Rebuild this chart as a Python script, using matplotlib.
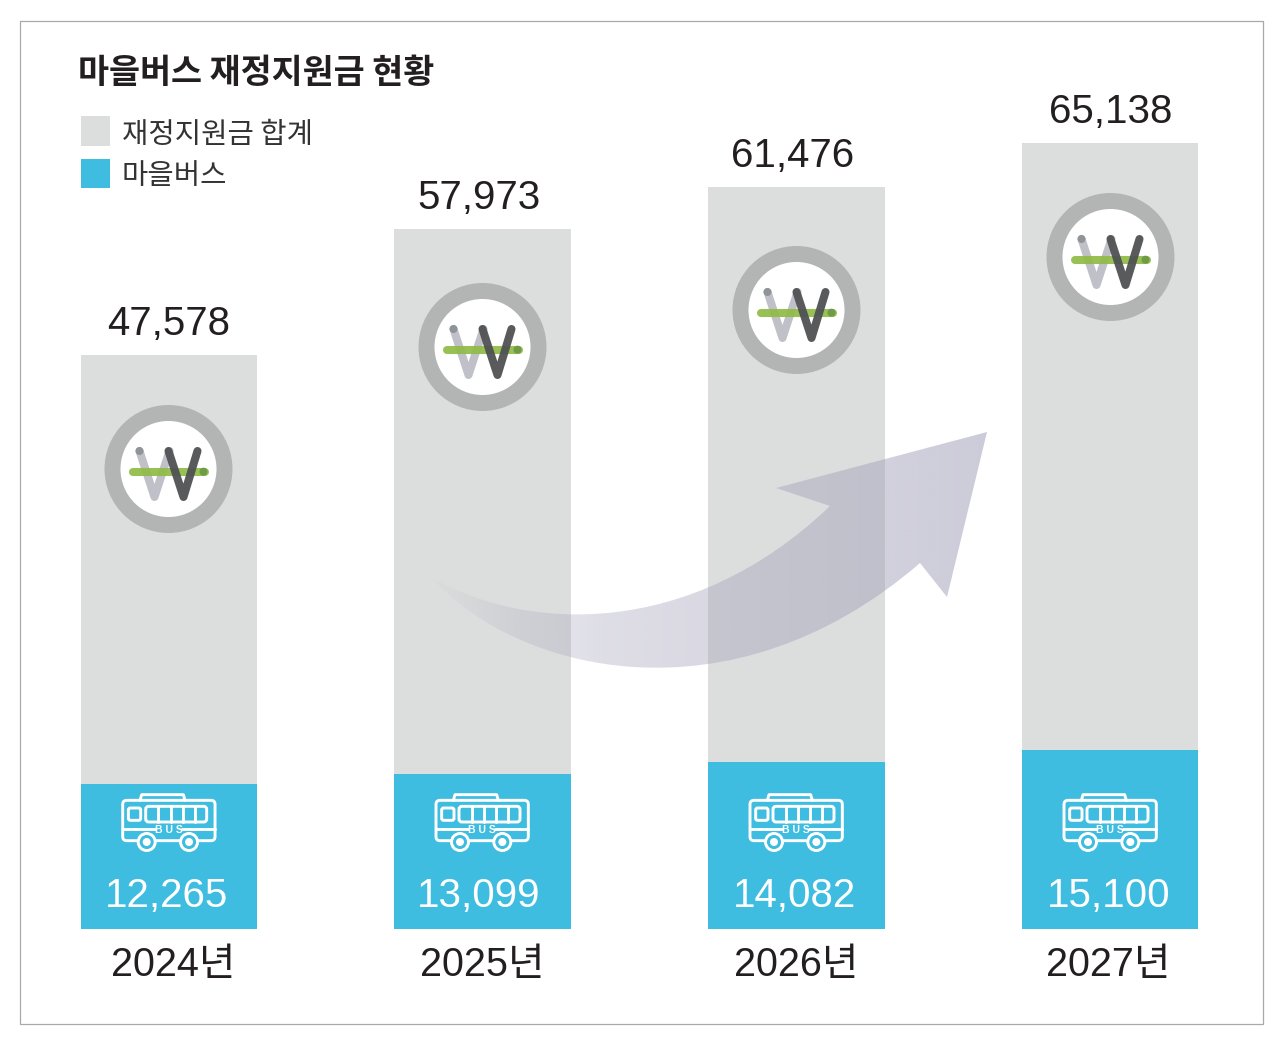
import numpy as np
import matplotlib
matplotlib.use("Agg")
import matplotlib.pyplot as plt
from matplotlib.patches import Circle, FancyBboxPatch, PathPatch, Rectangle
from matplotlib.path import Path

years = ["2024년", "2025년", "2026년", "2027년"]
total = [47578, 57973, 61476, 65138]
bus = [12265, 13099, 14082, 15100]

GRAY = "#dcdedd"
BLUE = "#3fbde0"
INK = "#231f20"
NUM_FONT = ["Liberation Sans", "Noto Sans CJK KR"]
KR_FONT = ["Noto Sans CJK KR", "DejaVu Sans"]

W, H = 1280, 1038
fig = plt.figure(figsize=(W / 100, H / 100), dpi=100)
fig.patch.set_facecolor("white")

x = np.arange(len(years))
xlim = (-169 / 313.7, (W - 169) / 313.7)
bar_w = 176.5 / 313.7


def value_axes(scale):
    # baseline sits 929 px from the top, scale = px per unit
    a = fig.add_axes([0, 0, 1, 1])
    a.set_xlim(xlim)
    a.set_ylim(-(H - 929) / scale, 929 / scale)
    a.axis("off")
    return a


# totals and bus values don't share the exact same scale in the original
ax_total = value_axes(0.01207)
ax_bus = value_axes(0.01184)
ax_total.bar(x, total, bar_w, color=GRAY, linewidth=0)
ax_bus.bar(x, bus, bar_w, color=BLUE, linewidth=0)

# overlay in pixel coordinates for frame, icons, arrow
ax = fig.add_axes([0, 0, 1, 1])
ax.set_xlim(0, W)
ax.set_ylim(H, 0)
ax.axis("off")

ax.add_patch(Rectangle((20, 21), 1243, 1003, fill=False, edgecolor="#a9a9a9", linewidth=0.9))

# arrow with horizontal gradient
verts = [
    (431, 577), (515, 672), (730, 727), (920, 563),
    (947, 597), (987, 432), (776, 488), (830, 506),
    (690, 640), (525, 632), (431, 577), (431, 577),
]
codes = [
    Path.MOVETO, Path.CURVE4, Path.CURVE4, Path.CURVE4,
    Path.LINETO, Path.LINETO, Path.LINETO, Path.LINETO,
    Path.CURVE4, Path.CURVE4, Path.CURVE4, Path.CLOSEPOLY,
]
grad_x = np.linspace(425, 990, 300)
rgba = np.zeros((1, 300, 4))
rgba[..., :3] = np.array([165, 163, 187]) / 255
rgba[..., 3] = np.interp(grad_x, [430, 520, 600, 985], [0.02, 0.24, 0.36, 0.56])
im = ax.imshow(rgba, extent=(425, 990, 730, 425), aspect="auto", zorder=2, interpolation="bilinear")
clip = PathPatch(Path(verts, codes), facecolor="none", edgecolor="none", transform=ax.transData)
ax.add_patch(clip)
im.set_clip_path(clip)
ax.set_xlim(0, W)
ax.set_ylim(H, 0)


def won_icon(cx, cy):
    ax.add_patch(Circle((cx, cy), 56, facecolor="white", edgecolor="#b3b5b4", linewidth=11.5, zorder=3))
    ax.plot([cx - 29, cx - 14, cx + 1], [cy - 18, cy + 28, cy - 18], color="#c0c1c8", lw=5.8,
            solid_capstyle="round", solid_joinstyle="round", zorder=4)
    ax.add_patch(Circle((cx - 29, cy - 18), 4, color="#8f9497", linewidth=0, zorder=4))
    ax.plot([cx - 36, cx + 36], [cy + 2.7, cy + 2.7], color="#8fbb46", lw=5.8, alpha=0.92,
            solid_capstyle="round", zorder=5)
    ax.add_patch(Circle((cx + 35, cy + 2.7), 4, color="#6f9a48", linewidth=0, zorder=5))
    ax.plot([cx, cx + 15, cx + 29], [cy - 18, cy + 28, cy - 18], color="#4f5153", lw=5.8, alpha=0.95,
            solid_capstyle="round", solid_joinstyle="round", zorder=6)


def bus_icon(cx, cy):
    # icon drawn from a 3x sketch, origin at the icon centre
    lw = 2.1
    def p(u, v):
        return cx + u / 3, cy + v / 3
    def box(u0, v0, u1, v1, r):
        (a, b), (c, d) = p(u0, v0), p(u1, v1)
        ax.add_patch(FancyBboxPatch((a, b), c - a, d - b, boxstyle=f"round,pad=0,rounding_size={r}",
                                    fill=False, edgecolor="white", linewidth=lw, zorder=3))
    def line(*pts):
        xs, ys = zip(*[p(*q) for q in pts])
        ax.plot(xs, ys, color="white", lw=lw, solid_capstyle="round", solid_joinstyle="round", zorder=3)
    box(-138, -53, 139, 68, 4)
    line((-86, -53), (-81, -70), (44, -70), (49, -53))
    box(-69, -35, 114, 12, 3)
    for u in [-31, 6, 42, 79]:
        line((u, -35), (u, 12))
    box(-121, -30, -84, 7, 2)
    line((-138, 33), (-41, 33))
    line((39, 33), (139, 33))
    ax.text(cx, cy + 12, "B U S", color="white", fontsize=7.5, fontweight="bold", ha="center", va="center",
            family="Liberation Sans", zorder=4)
    for u in [-66, 61]:
        c = p(u, 72)
        ax.add_patch(Circle(c, 8.5, facecolor=BLUE, edgecolor="white", linewidth=lw, zorder=4))
        ax.add_patch(Circle(c, 4, facecolor="white", linewidth=0, zorder=5))


for c in [(168.5, 469), (482.5, 347), (796.5, 310), (1110.5, 257)]:
    won_icon(*c)
for cx in [168.7, 482, 796, 1110]:
    bus_icon(cx, 818)

# numbers
for i, cx in enumerate([169, 479, 793, 1111]):
    top = 929 - total[i] * 0.01207
    ax.text(cx, top - 35, f"{total[i]:,}", family=NUM_FONT, fontsize=29,
            color=INK, ha="center", va="center_baseline", zorder=7)
for i, cx in enumerate([167, 479, 795, 1109]):
    ax.text(cx, 892, f"{bus[i]:,}", family=NUM_FONT, fontsize=29,
            color="white", ha="center", va="center_baseline", zorder=7)
for i, cx in enumerate([173, 482, 796, 1108]):
    ax.text(cx, 961, years[i], family=NUM_FONT, fontsize=28.5,
            color=INK, ha="center", va="center_baseline", zorder=7)

# title and legend
ax.text(78, 72, "마을버스 재정지원금 현황", family=KR_FONT, fontweight="bold", fontsize=24.3,
        color=INK, ha="left", va="center")
ax.add_patch(Rectangle((81, 116), 29, 30, facecolor=GRAY, linewidth=0))
ax.add_patch(Rectangle((81, 159), 29, 29, facecolor=BLUE, linewidth=0))
ax.text(122, 135, "재정지원금 합계", family=KR_FONT, fontsize=20.6, color="#333333",
        ha="left", va="center")
ax.text(122, 176, "마을버스", family=KR_FONT, fontsize=20.6, color="#333333",
        ha="left", va="center")

fig.savefig("out.png", dpi=100, facecolor="white")
plt.close(fig)
